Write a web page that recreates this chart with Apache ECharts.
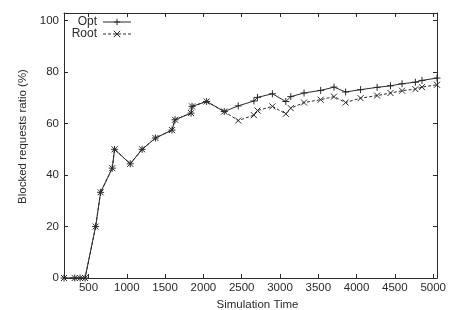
<!DOCTYPE html>
<html>
<head>
<meta charset="utf-8">
<script src="https://cdn.jsdelivr.net/npm/echarts@6/dist/echarts.min.js"></script>
<style>
html,body{margin:0;padding:0;background:#fff;}
#chart{width:474px;height:310px;}
</style>
</head>
<body>
<div id="chart"></div>
<script>
var dom = document.getElementById("chart");
var myChart = echarts.init(dom);

// simulation times (x)
var times = [180, 320, 390, 455, 593, 658, 810, 840, 1045, 1200, 1374, 1590, 1630, 1839, 1852, 2042, 2272,
  2455, 2660, 2706, 2901, 3076, 3141, 3314, 3531, 3705, 3857, 4052, 4268, 4443, 4594, 4768, 4854, 5050];
var optVals = [0, 0, 0, 0, 20, 33.3, 42.7, 50, 44.4, 50, 54.4, 57.5, 61.5, 64.1, 66.7, 68.6, 64.7,
  66.9, 68.8, 70.2, 71.6, 68.6, 70.5, 71.9, 72.9, 74.2, 72.3, 73.2, 74.1, 74.7, 75.5, 76.1, 76.8, 77.7];
var rootVals = [0, 0, 0, 0, 20, 33.3, 42.7, 50, 44.4, 50, 54.4, 57.5, 61.5, 64.1, 66.7, 68.6, 64.7,
  61.2, 63.3, 65.1, 66.7, 63.8, 66, 68.2, 69.3, 70.5, 68.2, 69.9, 70.9, 71.9, 72.8, 73.4, 74.2, 75.1];
var xTicks = [500, 1000, 1500, 2000, 2500, 3000, 3500, 4000, 4500, 5000];
var yTicks = [0, 20, 40, 60, 80, 100];

function pairs(xs, ys){
  var out = [];
  for (var i = 0; i < xs.length; i++) out.push([xs[i], ys[i]]);
  return out;
}

var ink = '#2a2a2a';
var font = 'Liberation Sans';
var plusPath = 'path://M5,0L5,10M0,5L10,5';
var crossPath = 'path://M0,0L10,10M10,0L0,10';
var plain = function(v){ return String(v); };

function xAxisDef(pos, showLabel){
  return {
    type: 'value', position: pos, min: 180, max: 5050,
    name: showLabel ? 'Simulation Time' : '',
    nameLocation: 'middle', nameGap: 18,
    nameTextStyle: {fontFamily: font, fontSize: 11.5, color: ink, padding: [0, 0, 0, 14]},
    axisLine: {show: true, onZero: false, lineStyle: {color: ink, width: 1}},
    axisTick: {show: true, inside: true, length: 4, customValues: xTicks, lineStyle: {color: ink}},
    axisLabel: {show: showLabel, customValues: xTicks, formatter: plain, margin: 4,
      fontFamily: font, fontSize: 11.5, color: ink},
    splitLine: {show: false}
  };
}
function yAxisDef(pos, showLabel){
  return {
    type: 'value', position: pos, min: 0, max: 103,
    name: showLabel ? 'Blocked requests ratio (%)' : '',
    nameLocation: 'middle', nameGap: 29,
    nameTextStyle: {fontFamily: font, fontSize: 11.5, color: ink, padding: [0, 0, 0, 18]},
    axisLine: {show: true, onZero: false, lineStyle: {color: ink, width: 1}},
    axisTick: {show: true, inside: true, length: 4, customValues: yTicks, lineStyle: {color: ink}},
    axisLabel: {show: showLabel, customValues: yTicks, formatter: plain, margin: 5,
      fontFamily: font, fontSize: 11.5, color: ink},
    splitLine: {show: false}
  };
}

var option = {
  animation: false,
  backgroundColor: '#fff',
  grid: {left: 64, right: 37, top: 13, bottom: 32, outerBoundsMode: 'none', containLabel: false},
  legend: {
    orient: 'vertical', left: 66, top: 16, align: 'right', padding: 0,
    itemWidth: 28, itemHeight: 8, itemGap: 0,
    itemStyle: {borderWidth: 1},
    lineStyle: {width: 1},
    textStyle: {fontFamily: font, fontSize: 12, color: ink, width: 31, lineHeight: 10,
      align: 'right', padding: [0, 1, 0, 0]},
    data: ['Opt', 'Root']
  },
  xAxis: [xAxisDef('bottom', true), xAxisDef('top', false)],
  yAxis: [yAxisDef('left', true), yAxisDef('right', false)],
  series: [
    {
      name: 'Opt', type: 'line', data: pairs(times, optVals),
      symbol: plusPath, symbolSize: 7, showAllSymbol: true,
      itemStyle: {color: ink, borderColor: ink, borderWidth: 1},
      lineStyle: {color: ink, width: 1}
    },
    {
      name: 'Root', type: 'line', data: pairs(times, rootVals),
      symbol: crossPath, symbolSize: 6, showAllSymbol: true,
      itemStyle: {color: ink, borderColor: ink, borderWidth: 1},
      lineStyle: {color: ink, width: 1, type: [3, 2]}
    }
  ]
};

myChart.setOption(option);
</script>
</body>
</html>
